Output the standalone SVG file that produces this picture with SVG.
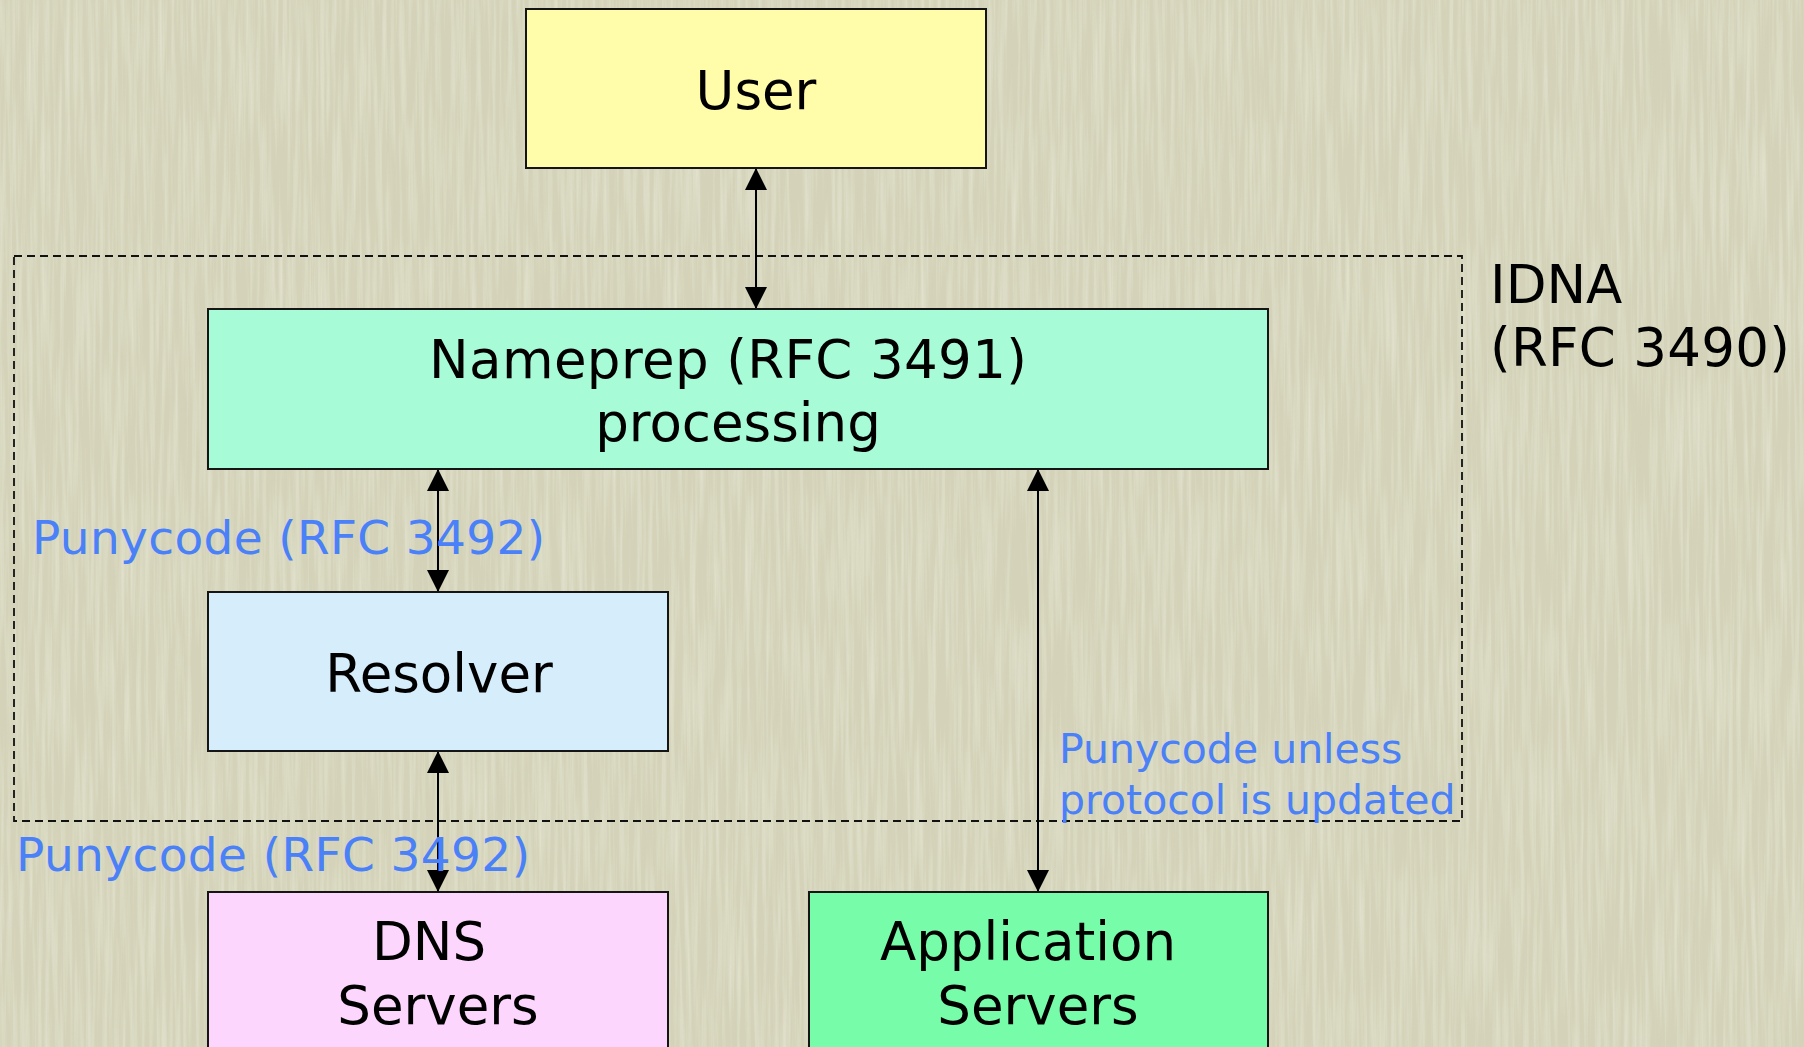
<svg xmlns="http://www.w3.org/2000/svg" width="1804" height="1047" viewBox="0 0 1804 1047">
  <style>
    .box { stroke: #151515; stroke-width: 2; }
    .lbl { font-family: "DejaVu Sans", Verdana, sans-serif; font-size: 53px; fill: #000; text-anchor: middle; }
    .side { font-family: "DejaVu Sans", Verdana, sans-serif; font-size: 53px; fill: #000; }
    .puny { font-family: "DejaVu Sans", Verdana, sans-serif; font-size: 47px; fill: #4A80F8; }
    .note { font-family: "DejaVu Sans", Verdana, sans-serif; font-size: 41px; fill: #4A80F8; }
    .link { stroke: #000; stroke-width: 2; fill: none; marker-start: url(#head); marker-end: url(#head); }
    .scope { stroke: #111; stroke-width: 1.8; stroke-dasharray: 8 5; fill: none; }
  </style>
  <defs>
    <!-- paper grain: fine vertical streaks -->
    <filter id="paper" x="0" y="0" width="100%" height="100%" filterUnits="userSpaceOnUse">
      <feTurbulence type="fractalNoise" baseFrequency="0.24 0.008" numOctaves="3" seed="7"/>
      <feColorMatrix type="matrix" values="0 0 0 0 1  0 0 0 0 1  0 0 0 0 0.95  1.6 0 0 0 -0.62"/>
    </filter>
    <filter id="paperDark" x="0" y="0" width="100%" height="100%" filterUnits="userSpaceOnUse">
      <feTurbulence type="fractalNoise" baseFrequency="0.3 0.01" numOctaves="2" seed="13"/>
      <feColorMatrix type="matrix" values="0 0 0 0 0.6  0 0 0 0 0.6  0 0 0 0 0.5  -1.6 0 0 0 0.62"/>
    </filter>
    <marker id="head" markerWidth="22" markerHeight="22" refX="22" refY="11" orient="auto-start-reverse" markerUnits="userSpaceOnUse">
      <path d="M0,0 L22,11 L0,22 Z" fill="#000"/>
    </marker>
  </defs>

  <!-- background -->
  <g id="background">
    <rect x="0" y="0" width="1804" height="1047" fill="#D4D3B9"/>
    <rect x="0" y="0" width="1804" height="1047" filter="url(#paper)" opacity="0.38"/>
    <rect x="0" y="0" width="1804" height="1047" filter="url(#paperDark)" opacity="0.2"/>
  </g>

  <!-- IDNA scope -->
  <g id="idna">
    <rect class="scope" x="14" y="256" width="1448" height="565"/>
    <text class="side" x="1490" y="303">IDNA</text>
    <text class="side" x="1490" y="366" textLength="300" lengthAdjust="spacing">(RFC 3490)</text>
  </g>

  <!-- connectors -->
  <g id="connectors">
    <line class="link" x1="756" y1="168" x2="756" y2="309"/>
    <line class="link" x1="438" y1="469" x2="438" y2="592"/>
    <line class="link" x1="438" y1="751" x2="438" y2="892"/>
    <line class="link" x1="1038" y1="469" x2="1038" y2="892"/>
  </g>

  <!-- connector labels -->
  <g id="labels">
    <text class="puny" x="32" y="554" textLength="513" lengthAdjust="spacing">Punycode (RFC 3492)</text>
    <text class="puny" x="16" y="871" textLength="514" lengthAdjust="spacing">Punycode (RFC 3492)</text>
    <text class="note" x="1059" y="763">Punycode unless</text>
    <text class="note" x="1059" y="814">protocol is updated</text>
  </g>

  <g id="user">
    <rect class="box" x="526" y="9" width="460" height="159" fill="#FFFCAA"/>
    <text class="lbl" x="756" y="109">User</text>
  </g>

  <g id="nameprep">
    <rect class="box" x="208" y="309" width="1060" height="160" fill="#A7FBD7"/>
    <text class="lbl" x="728" y="378" textLength="598" lengthAdjust="spacing">Nameprep (RFC 3491)</text>
    <text class="lbl" x="738" y="441">processing</text>
  </g>

  <g id="resolver">
    <rect class="box" x="208" y="592" width="460" height="159" fill="#D6EDFC"/>
    <text class="lbl" x="439" y="692">Resolver</text>
  </g>

  <g id="dns">
    <rect class="box" x="208" y="892" width="460" height="180" fill="#FCD6FC"/>
    <text class="lbl" x="429" y="960">DNS</text>
    <text class="lbl" x="438" y="1024">Servers</text>
  </g>

  <g id="app">
    <rect class="box" x="809" y="892" width="459" height="180" fill="#77FCAA"/>
    <text class="lbl" x="1028" y="960">Application</text>
    <text class="lbl" x="1038" y="1024">Servers</text>
  </g>
</svg>
